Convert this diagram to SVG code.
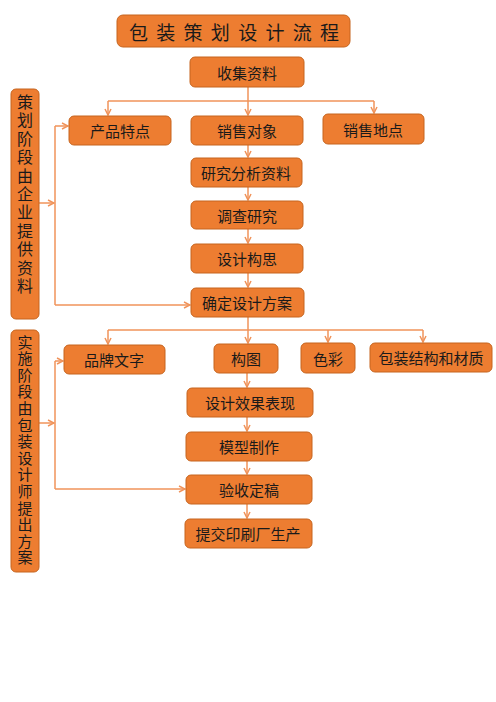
<svg xmlns="http://www.w3.org/2000/svg" width="496" height="702" viewBox="0 0 496 702">
<defs>
<style>
.b{fill:#ED7D31;stroke:#C6651F;stroke-width:1}
.t{font-family:"Noto Sans CJK SC","Noto Sans",sans-serif;font-size:15px;fill:#1a1a1a;text-anchor:middle;dominant-baseline:central}
.v{font-family:"Noto Sans CJK SC","Noto Sans",sans-serif;fill:#1a1a1a;writing-mode:vertical-rl;text-anchor:start}
.c{fill:none;stroke:#F0935A;stroke-width:1.5}
</style>
<marker id="a" viewBox="0 0 8 8" refX="7" refY="4" markerWidth="8" markerHeight="8" markerUnits="userSpaceOnUse" orient="auto">
<path d="M1,1 L7,4 L1,7" fill="none" stroke="#F0935A" stroke-width="1.5"/>
</marker>
</defs>
<rect width="496" height="702" fill="#fff"/>
<g id="connectors">
<path class="c" d="M248,87 V101"/>
<path class="c" d="M108,101 H374"/>
<path class="c" d="M108,101 V115" marker-end="url(#a)"/>
<path class="c" d="M248,101 V115" marker-end="url(#a)"/>
<path class="c" d="M374,101 V113" marker-end="url(#a)"/>
<path class="c" d="M248,145 V157" marker-end="url(#a)"/>
<path class="c" d="M248,187 V200" marker-end="url(#a)"/>
<path class="c" d="M248,229 V243" marker-end="url(#a)"/>
<path class="c" d="M248,273 V287" marker-end="url(#a)"/>
<path class="c" d="M39,203 H54" marker-end="url(#a)"/>
<path class="c" d="M55,126 V305"/>
<path class="c" d="M55,126 H68" marker-end="url(#a)"/>
<path class="c" d="M55,305 H190" marker-end="url(#a)"/>
<path class="c" d="M248,317 V330"/>
<path class="c" d="M108,330 H423"/>
<path class="c" d="M108,330 V344" marker-end="url(#a)"/>
<path class="c" d="M248,330 V343" marker-end="url(#a)"/>
<path class="c" d="M328,330 V342" marker-end="url(#a)"/>
<path class="c" d="M423,330 V342" marker-end="url(#a)"/>
<path class="c" d="M247,373 V387" marker-end="url(#a)"/>
<path class="c" d="M247,417 V431" marker-end="url(#a)"/>
<path class="c" d="M247,461 V474" marker-end="url(#a)"/>
<path class="c" d="M247,504 V518" marker-end="url(#a)"/>
<path class="c" d="M39,423 H54" marker-end="url(#a)"/>
<path class="c" d="M55,361 V489"/>
<path class="c" d="M55,361 H63" marker-end="url(#a)"/>
<path class="c" d="M55,489 H185" marker-end="url(#a)"/>
</g>
<g id="title"><rect class="b" x="117" y="15" width="233" height="32" rx="6"/><text class="t" x="129" y="31" style="text-anchor:start;font-size:19px" textLength="210" lengthAdjust="spacing">包 装 策 划 设 计 流 程</text></g>
<g id="n1"><rect class="b" x="190" y="57" width="114" height="30" rx="5"/><text class="t" x="247" y="72">收集资料</text></g>
<g id="n2"><rect class="b" x="69" y="116" width="102" height="29" rx="5"/><text class="t" x="120" y="130">产品特点</text></g>
<g id="n3"><rect class="b" x="191" y="116" width="112" height="29" rx="5"/><text class="t" x="247" y="130">销售对象</text></g>
<g id="n4"><rect class="b" x="323" y="114" width="101" height="30" rx="5"/><text class="t" x="373" y="129">销售地点</text></g>
<g id="n5"><rect class="b" x="191" y="158" width="111" height="29" rx="5"/><text class="t" x="246" y="172">研究分析资料</text></g>
<g id="n6"><rect class="b" x="191" y="201" width="112" height="28" rx="5"/><text class="t" x="247" y="215">调查研究</text></g>
<g id="n7"><rect class="b" x="191" y="244" width="112" height="29" rx="5"/><text class="t" x="247" y="258">设计构思</text></g>
<g id="n8"><rect class="b" x="191" y="288" width="113" height="29" rx="5"/><text class="t" x="247" y="302">确定设计方案</text></g>
<g id="side1"><rect class="b" x="11" y="89" width="28" height="230" rx="5"/><text class="v" x="25" y="94" style="font-size:16px;letter-spacing:2.4px">策划阶段由企业提供资料</text></g>
<g id="n9"><rect class="b" x="64" y="345" width="101" height="29" rx="5"/><text class="t" x="114" y="359">品牌文字</text></g>
<g id="n10"><rect class="b" x="214" y="344" width="64" height="29" rx="5"/><text class="t" x="246" y="358">构图</text></g>
<g id="n11"><rect class="b" x="301" y="343" width="54" height="30" rx="5"/><text class="t" x="328" y="358">色彩</text></g>
<g id="n12"><rect class="b" x="370" y="343" width="122" height="29" rx="5"/><text class="t" x="431" y="357">包装结构和材质</text></g>
<g id="n13"><rect class="b" x="187" y="388" width="126" height="29" rx="5"/><text class="t" x="250" y="402">设计效果表现</text></g>
<g id="n14"><rect class="b" x="186" y="432" width="126" height="29" rx="5"/><text class="t" x="249" y="446">模型制作</text></g>
<g id="n15"><rect class="b" x="186" y="475" width="126" height="29" rx="5"/><text class="t" x="249" y="489">验收定稿</text></g>
<g id="n16"><rect class="b" x="185" y="519" width="127" height="29" rx="5"/><text class="t" x="248" y="533">提交印刷厂生产</text></g>
<g id="side2"><rect class="b" x="11" y="330" width="28" height="242" rx="5"/><text class="v" x="25" y="334.5" style="font-size:15px;letter-spacing:1.6px">实施阶段由包装设计师提出方案</text></g>
</svg>
